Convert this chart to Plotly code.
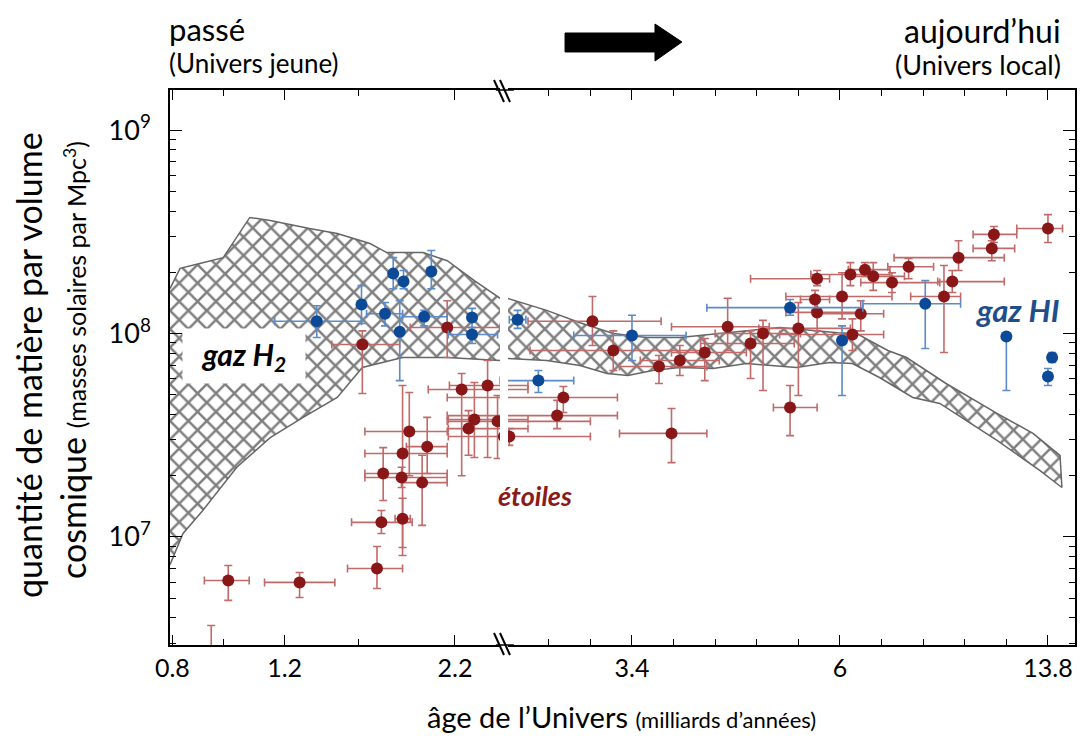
import math
import plotly.graph_objects as go

# ---------------- data (redshift z on the axis, labelled with the age of the Universe) ----------------
# Stars (étoiles)
star_z     = [5.92, 4.78, 3.79, 3.74, 3.51, 3.72, 3.52, 3.31, 3.51, 3.44, 3.26, 3.96, 3.07, 2.94, 2.72, 2.83, 2.88,
              2.64, 2.59, 2.33, 2.36, 2.19, 2.09, 1.87, 1.81, 1.65, 1.54, 1.43, 1.37, 1.20, 1.24, 1.12, 1.11, 0.99,
              0.94, 0.90, 0.95, 0.84, 0.75, 0.67, 0.50, 0.46, 0.43, 0.27, 0.26, 0.00, 1.11, 6.23, 1.77, 0.88]
star_z_min = [5.56, 4.30, 3.51, 3.41, 3.43, 3.07, 3.07, 3.07, 3.07, 3.07, 3.07, 3.54, 2.62, 2.50, 2.50, 2.50, 2.50,
              2.20, 2.20, 2.07, 2.07, 1.86, 1.67, 1.64, 1.64, 1.45, 1.34, 1.22, 1.19, 0.95, 1.11, 1.05, 0.90, 0.75,
              0.79, 0.79, 0.76, 0.69, 0.52, 0.55, 0.42, 0.21, 0.21, 0.16, 0.15, -0.07, 1.05, 6.23, 1.58, 0.76]
star_z_max = [6.36, 5.31, 4.14, 4.09, 3.59, 3.93, 3.93, 3.52, 3.93, 3.93, 3.47, 4.34, 3.43, 3.25, 3.05, 3.06, 3.06,
              3.07, 3.06, 3.07, 3.07, 2.50, 2.49, 2.06, 2.06, 1.81, 1.81, 1.67, 1.60, 1.39, 1.32, 1.19, 1.26, 1.26,
              1.29, 1.10, 1.14, 0.96, 0.90, 0.77, 0.66, 0.53, 0.74, 0.36, 0.36, 0.15, 1.43, 6.23, 1.96, 0.96]
star_rho    = [6.11e6, 5.98e6, 7.00e6, 1.18e7, 1.23e7, 2.05e7, 1.96e7, 1.85e7, 2.57e7, 3.30e7, 2.78e7, 8.83e7, 1.07e8,
               5.31e7, 5.55e7, 3.78e7, 3.41e7, 3.70e7, 3.12e7, 4.85e7, 3.95e7, 1.15e8, 8.25e7, 6.89e7, 3.23e7, 8.07e7,
               1.08e8, 8.93e7, 1.00e8, 1.06e8, 4.33e7, 1.47e8, 1.27e8, 1.52e8, 9.89e7, 1.25e8, 1.95e8, 1.91e8, 1.78e8,
               2.13e8, 1.52e8, 1.80e8, 2.36e8, 2.62e8, 3.07e8, 3.28e8, 1.86e8, 2.21e6, 7.37e7, 2.06e8]
star_rho_lo = [4.88e6, 5.04e6, 5.58e6, 1.04e7, 8.88e6, 1.51e7, 1.75e7, 1.14e7, 8.11e6, 2.00e7, 2.05e7, 5.07e7, 7.62e7,
               2.00e7, 2.46e7, 2.46e7, 2.52e7, 2.43e7, 2.82e7, 4.09e7, 3.41e7, 8.73e7, 6.58e7, 5.68e7, 2.32e7, 5.87e7,
               8.25e7, 6.01e7, 5.25e7, 4.96e7, 3.15e7, 1.30e8, 1.03e8, 1.18e8, 8.25e7, 1.03e8, 1.72e8, 1.63e8, 1.59e8,
               1.86e8, 8.07e7, 1.59e8, 2.04e8, 2.28e8, 2.80e8, 2.80e8, 1.72e8, 2.00e6, 6.22e7, 1.91e8]
star_rho_hi = [7.24e6, 6.69e6, 8.98e6, 1.35e7, 1.55e7, 2.75e7, 2.20e7, 2.52e7, 5.55e7, 5.13e7, 3.87e7, 1.03e8, 1.45e8,
               6.36e7, 7.37e7, 5.74e7, 4.18e7, 4.96e7, 3.41e7, 5.49e7, 4.69e7, 1.52e8, 1.03e8, 7.80e7, 4.28e7, 9.45e7,
               1.49e8, 1.03e8, 1.16e8, 1.42e8, 5.55e7, 1.63e8, 1.45e8, 1.99e8, 1.18e8, 1.45e8, 2.23e8, 2.23e8, 1.99e8,
               2.34e8, 2.16e8, 2.04e8, 2.86e8, 2.86e8, 3.36e8, 3.84e8, 2.04e8, 3.67e6, 8.73e7, 2.23e8]

# Atomic gas (gaz HI)
hi_z     = [4.54, 3.97, 3.70, 3.61, 3.50, 3.54, 3.22, 3.29, 2.85, 2.85, 2.55, 2.45, 2.00, 1.24, 0.99, 0.59, 0.20, -0.02, 0.00]
hi_z_min = [3.97, 3.97, 3.51, 3.61, 3.50, 3.54, 3.22, 3.07, 2.85, 2.64, 2.51, 2.28, 1.74, 0.89, 0.99, 0.42, 0.20, -0.02, 0.00]
hi_z_max = [5.15, 3.97, 3.91, 3.61, 3.50, 3.54, 3.22, 3.51, 2.85, 3.06, 2.59, 2.62, 2.28, 1.64, 0.99, 0.89, 0.20, -0.02, 0.00]
hi_rho    = [1.15e8, 1.39e8, 1.25e8, 1.97e8, 1.80e8, 1.02e8, 2.02e8, 1.21e8, 1.20e8, 9.89e7, 1.17e8, 5.87e7, 9.78e7,
             1.34e8, 9.24e7, 1.40e8, 9.67e7, 7.62e7, 6.15e7]
hi_rho_lo = [9.56e7, 1.12e8, 1.09e8, 1.66e8, 1.66e8, 5.87e7, 1.66e8, 1.09e8, 1.07e8, 8.93e7, 1.06e8, 5.13e7, 7.37e7,
             1.23e8, 4.96e7, 8.44e7, 5.25e7, 7.20e7, 5.55e7]
hi_rho_hi = [1.37e8, 1.72e8, 1.42e8, 2.36e8, 2.04e8, 1.45e8, 2.56e8, 1.30e8, 1.33e8, 1.07e8, 1.30e8, 6.58e7, 1.23e8,
             1.47e8, 1.09e8, 1.82e8, 9.67e7, 8.07e7, 6.73e7]

# Molecular gas band (gaz H2): upper and lower envelopes, early (left) and late (right) parts
h2_early_up_z = [7.05, 6.84, 6.39, 6.01, 5.55, 5.22, 4.64, 4.27, 3.87, 3.68, 3.30, 3.07, 2.83, 2.62, 2.54]
h2_early_up   = [1.66e8, 2.09e8, 2.23e8, 2.36e8, 3.72e8, 3.59e8, 3.28e8, 3.10e8, 2.77e8, 2.50e8, 2.50e8, 2.28e8,
                 1.82e8, 1.49e8, 1.40e8]
h2_early_lo_z = [7.05, 6.78, 6.39, 5.77, 5.22, 4.73, 4.27, 3.96, 3.51, 3.07, 2.62, 2.54]
h2_early_lo   = [7.3e6, 1.04e7, 1.35e7, 2.20e7, 3.08e7, 3.87e7, 4.85e7, 6.81e7, 7.62e7, 7.62e7, 7.37e7, 7.20e7]
h2_late_up_z = [2.66, 2.60, 2.41, 2.25, 2.09, 1.93, 1.77, 1.45, 1.29, 1.01, 0.92, 0.77, 0.68, 0.49, 0.245, 0.072, -0.058]
h2_late_up   = [1.50e8, 1.49e8, 1.30e8, 1.13e8, 1.00e8, 9.56e7, 9.56e7, 1.03e8, 1.07e8, 1.01e8, 1.00e8, 8.25e7,
                7.62e7, 5.68e7, 4.05e7, 3.23e7, 2.52e7]
h2_late_lo_z = [2.66, 2.60, 2.41, 2.25, 2.12, 2.02, 1.90, 1.77, 1.61, 1.45, 1.21, 1.05, 0.94, 0.81, 0.65, 0.52,
                0.245, 0.038, -0.067]
h2_late_lo   = [7.45e7, 7.54e7, 7.37e7, 6.96e7, 6.36e7, 6.22e7, 6.58e7, 6.81e7, 6.73e7, 7.12e7, 6.81e7, 7.20e7,
                7.12e7, 6.08e7, 4.85e7, 4.53e7, 2.98e7, 2.12e7, 1.75e7]

# axis ticks (redshift positions, labelled with age in Gyr)
early_tick_z = [7, 5, 3]
early_tick_age = ["0.8", "1.2", "2.2"]
early_minor_z = [4, 6]
late_tick_z = [2, 1, 0]
late_tick_age = ["3.4", "6", "13.8"]
late_minor_z = [2.6, 2.4, 2.2, 1.8, 1.6, 1.4, 1.2, 0.8, 0.6, 0.4, 0.2]
y_tick_vals = [1e7, 1e8, 1e9]
y_tick_text = ["10<sup>7</sup>", "10<sup>8</sup>", "10<sup>9</sup>"]
y_minor_vals = [m * 10 ** d for d in (6, 7, 8, 9) for m in range(2, 10)]

# ---------------- styling ----------------
RED = "#8a1717"
RED_ERR = "#c06a6a"
BLUE = "#0c4a98"
BLUE_ERR = "#5b8bc8"
FONT = "Lato"

fig = go.Figure()

def band(up_z, up, lo_z, lo, xa, ya):
    fig.add_trace(go.Scatter(
        x=list(up_z) + list(lo_z)[::-1], y=list(up) + list(lo)[::-1],
        mode="lines", fill="toself", line=dict(color="#666666", width=1.5),
        fillcolor="white",
        fillpattern=dict(shape="x", fgcolor="black", bgcolor="white", size=13, solidity=0.35),
        xaxis=xa, yaxis=ya, showlegend=False, hoverinfo="skip"))

band(h2_early_up_z, h2_early_up, h2_early_lo_z, h2_early_lo, "x", "y")
band(h2_late_up_z, h2_late_up, h2_late_lo_z, h2_late_lo, "x2", "y2")

def points(z, zmin, zmax, rho, lo, hi, col, ecol):
    for xa, ya in (("x", "y"), ("x2", "y2")):
        fig.add_trace(go.Scatter(
            x=z, y=rho, mode="markers",
            marker=dict(color=col, size=12),
            error_x=dict(type="data", symmetric=False,
                         array=[b - a for a, b in zip(z, zmax)],
                         arrayminus=[a - b for a, b in zip(z, zmin)],
                         color=ecol, thickness=1.6, width=4),
            error_y=dict(type="data", symmetric=False,
                         array=[b - a for a, b in zip(rho, hi)],
                         arrayminus=[a - b for a, b in zip(rho, lo)],
                         color=ecol, thickness=1.6, width=4),
            xaxis=xa, yaxis=ya, showlegend=False))

points(star_z, star_z_min, star_z_max, star_rho, star_rho_lo, star_rho_hi, RED, RED_ERR)
points(hi_z, hi_z_min, hi_z_max, hi_rho, hi_rho_lo, hi_rho_hi, BLUE, BLUE_ERR)

axis_common = dict(showline=True, linecolor="black", linewidth=1.5, ticks="inside",
                   tickcolor="black", tickwidth=1.2, showgrid=False, zeroline=False)

# the page adds an 8px body margin, so the figure is 8px smaller than the window on each axis
fig.update_layout(
    width=1083, height=730,
    margin=dict(l=162, r=16, t=82, b=93),
    paper_bgcolor="white", plot_bgcolor="white",
    showlegend=False,
    font=dict(family=FONT, color="black"),
    xaxis=dict(domain=[0, 0.3646], type="log",
               range=[math.log10(7.05), math.log10(2.621)],
               tickmode="array", tickvals=early_tick_z, ticktext=early_tick_age,
               ticklen=10, mirror="allticks", anchor="y",
               minor=dict(tickvals=early_minor_z, ticks="inside", ticklen=6, tickcolor="black"),
               tickfont=dict(family=FONT, size=25), **axis_common),
    xaxis2=dict(domain=[0.3735, 1], range=[2.596, -0.13],
                tickmode="array", tickvals=late_tick_z, ticktext=late_tick_age,
                ticklen=10, mirror="allticks", anchor="y2",
                minor=dict(tickvals=late_minor_z, ticks="inside", ticklen=6, tickcolor="black"),
                tickfont=dict(family=FONT, size=25), **axis_common),
    yaxis=dict(type="log", range=[6.469, 9.197], anchor="x",
               tickmode="array", tickvals=y_tick_vals, ticktext=y_tick_text,
               ticklen=12, ticklabelstandoff=12,
               minor=dict(tickvals=y_minor_vals, ticks="inside", ticklen=6, tickcolor="black"),
               tickfont=dict(family=FONT, size=27), **axis_common),
    yaxis2=dict(type="log", range=[6.469, 9.197], anchor="x2", side="right", matches="y",
                showticklabels=False, tickmode="array", tickvals=y_tick_vals, ticklen=12,
                minor=dict(tickvals=y_minor_vals, ticks="inside", ticklen=6, tickcolor="black"),
                **axis_common),
)

def px(x):
    return (x - 170) / 905

def py(y):
    return (645 - y) / 555

shapes = [
    dict(type="line", xref="paper", yref="paper", x0=0.36, x1=0.38, y0=1, y1=1, line=dict(color="black", width=1.5)),
    dict(type="line", xref="paper", yref="paper", x0=0.36, x1=0.38, y0=0, y1=0, line=dict(color="black", width=1.5)),
]
for yt, yb in ((80, 102), (633, 655)):
    for dx in (0, 6):
        shapes.append(dict(type="line", xref="paper", yref="paper",
                           x0=px(494 + dx), y0=py(yt), x1=px(504 + dx), y1=py(yb),
                           line=dict(color="black", width=2)))
arrow = [(565, 33), (655, 33), (655, 24), (682, 42), (655, 61), (655, 52), (565, 52)]
path = "M " + " L ".join(f"{px(a):.4f},{py(b):.4f}" for a, b in arrow) + " Z"
shapes.append(dict(type="path", xref="paper", yref="paper", path=path,
                   fillcolor="black", line=dict(color="black", width=1)))
fig.update_layout(shapes=shapes)

ann = [
    dict(x=px(167), y=py(29), xanchor="left", yanchor="middle", text="passé", font=dict(size=31)),
    dict(x=px(167), y=py(63), xanchor="left", yanchor="middle", text="(Univers jeune)", font=dict(size=26)),
    dict(x=px(1063), y=py(30), xanchor="right", yanchor="middle", text="aujourd’hui", font=dict(size=32)),
    dict(x=px(1063), y=py(64), xanchor="right", yanchor="middle", text="(Univers local)", font=dict(size=27)),
    dict(x=px(28), y=py(365), textangle=-90, xanchor="center", yanchor="middle",
         text="quantité de matière par volume", font=dict(size=34)),
    dict(x=px(72), y=py(360), textangle=-90, xanchor="center", yanchor="middle",
         text="cosmique <span style='font-size:25px'>(masses solaires par Mpc<sup>3</sup>)</span>",
         font=dict(size=34)),
    dict(x=px(621), y=py(716), xanchor="center", yanchor="middle",
         text="âge de l’Univers <span style='font-size:22px'>(milliards d’années)</span>", font=dict(size=29)),
    dict(x=px(244), y=py(356), xanchor="center", yanchor="middle", width=120, height=52,
         bgcolor="white", text="<b><i>gaz H<sub>2</sub></i></b>", font=dict(size=30)),
    dict(x=px(535), y=py(495), xanchor="center", yanchor="middle",
         text="<b><i>étoiles</i></b>", font=dict(size=27, color="#8b1a1a")),
    dict(x=px(1017), y=py(310), xanchor="center", yanchor="middle",
         text="<b><i>gaz HI</i></b>", font=dict(size=31, color="#1f4e8c")),
]
for a in ann:
    a.update(xref="paper", yref="paper", showarrow=False)
fig.update_layout(annotations=ann)

fig.write_html("out.html")
